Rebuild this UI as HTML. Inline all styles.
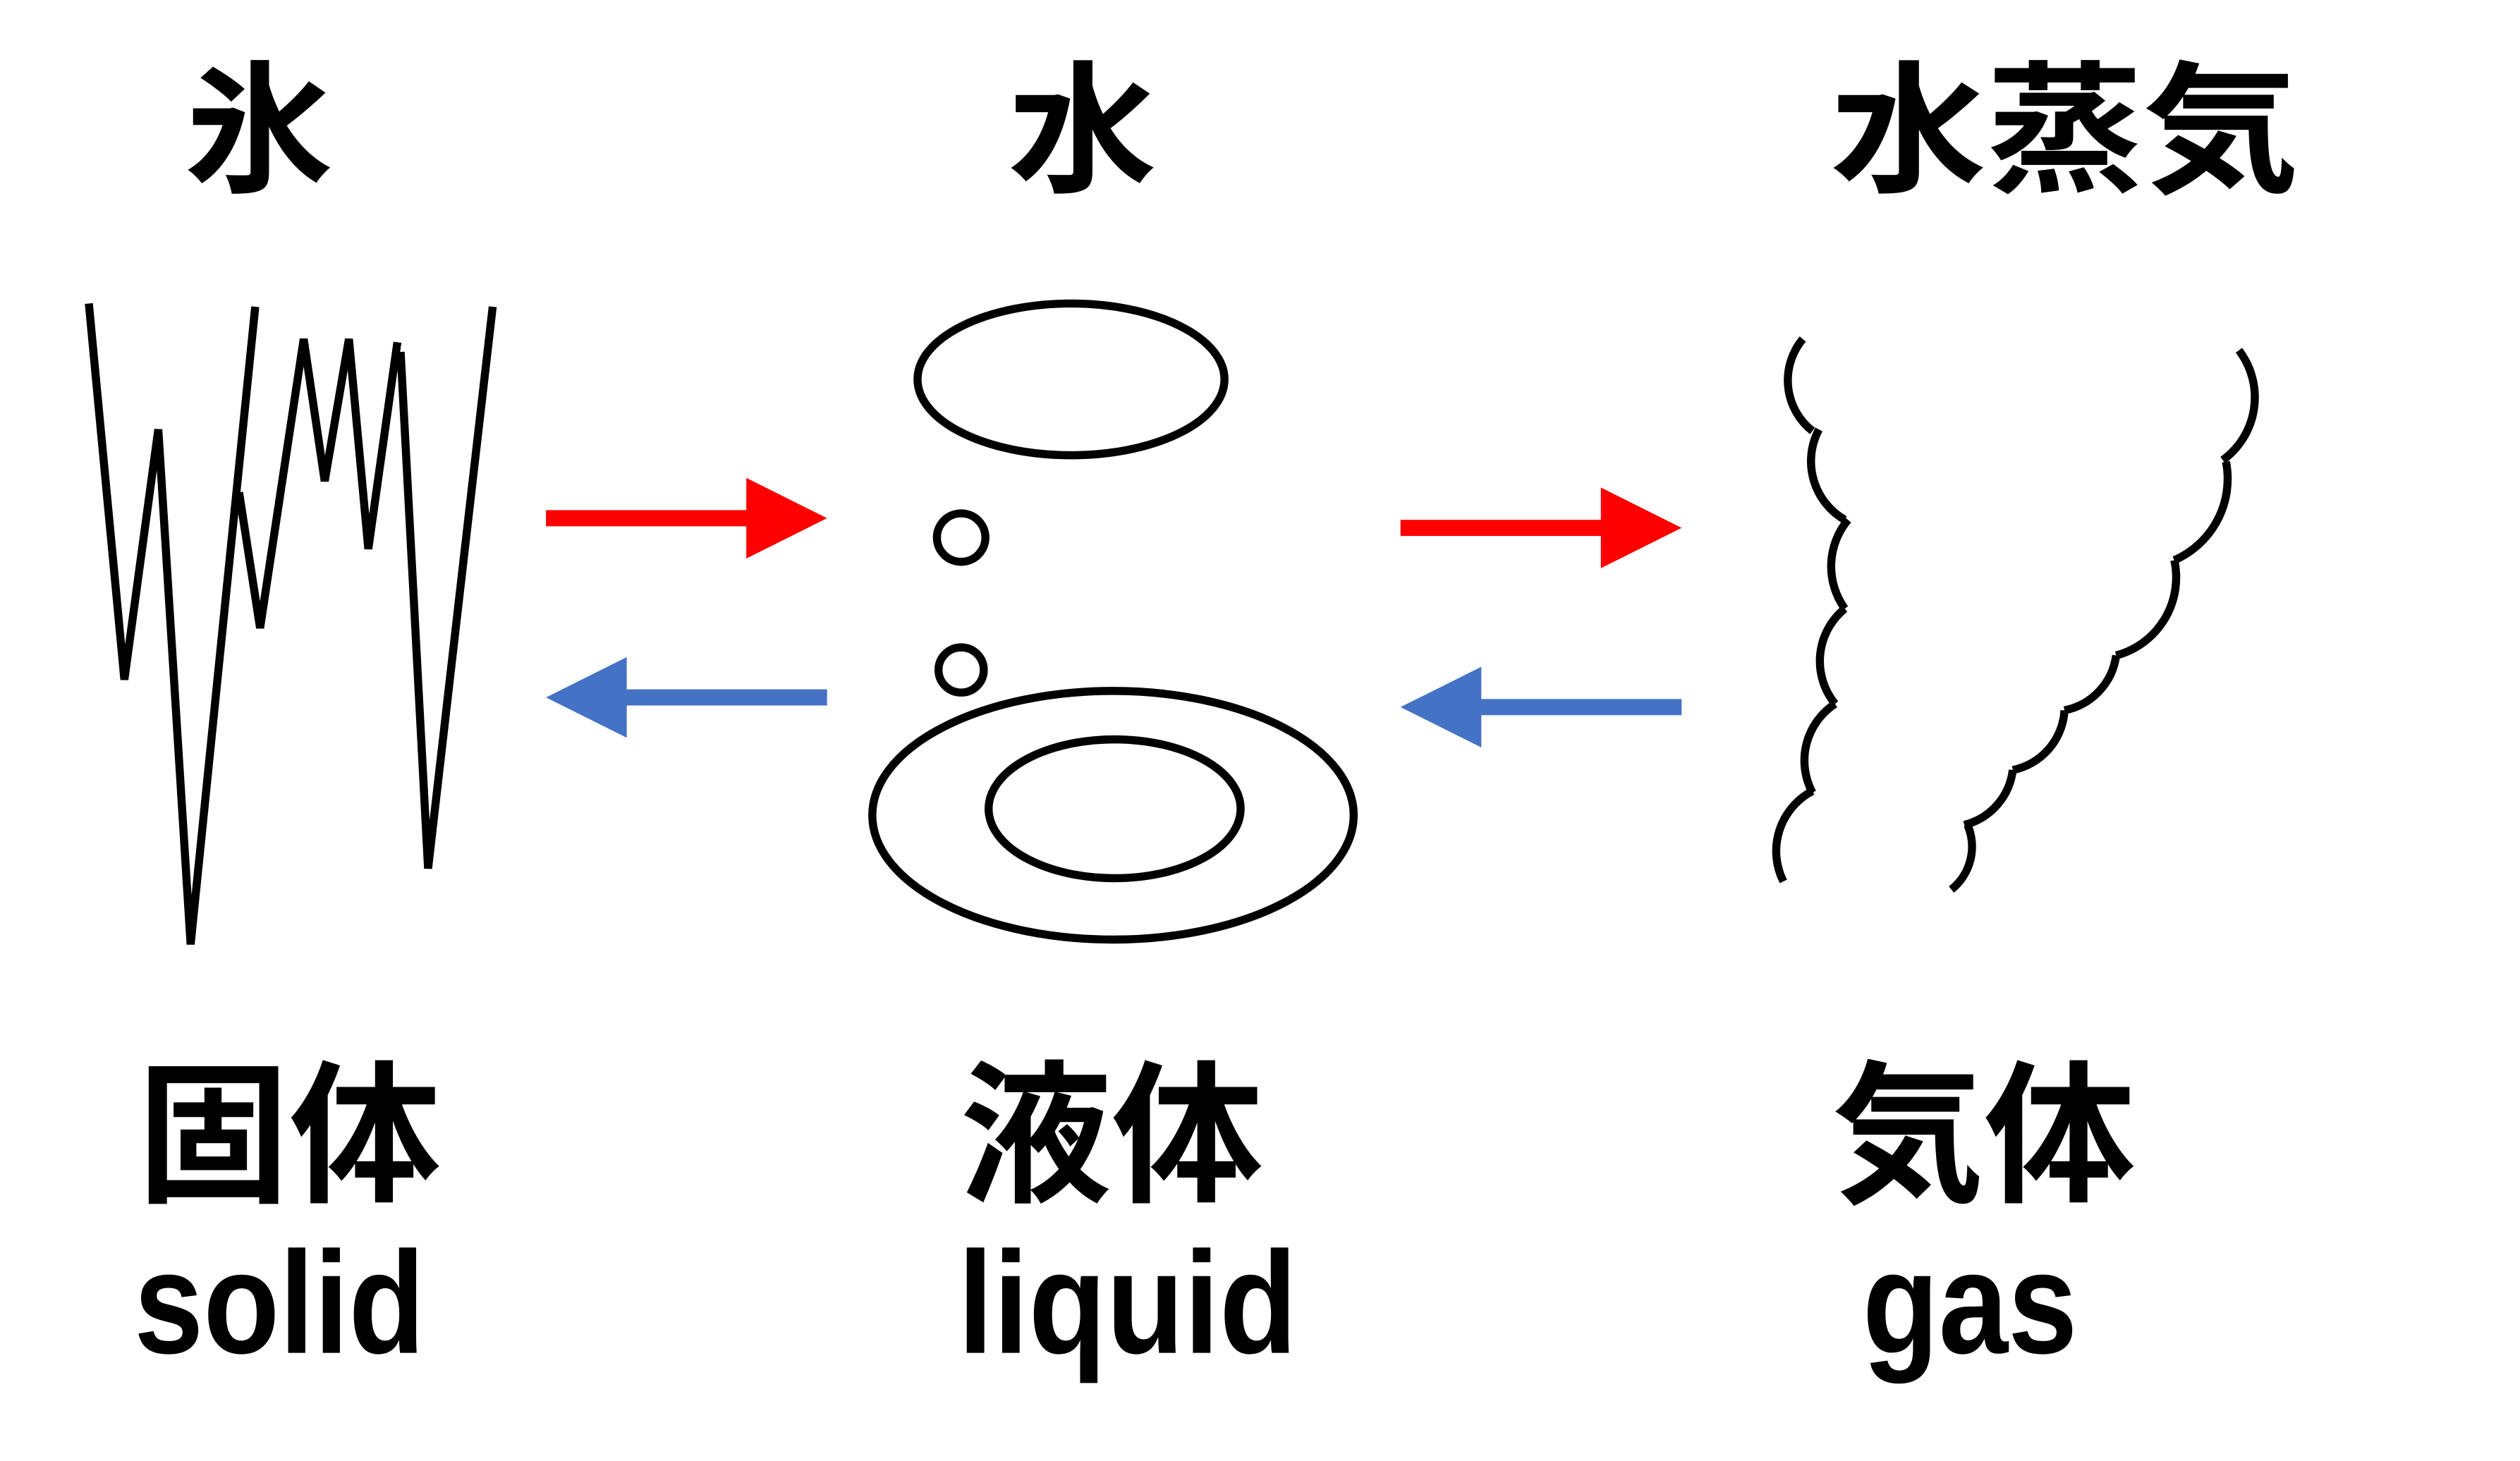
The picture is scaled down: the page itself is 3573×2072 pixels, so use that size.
<!DOCTYPE html>
<html><head><meta charset="utf-8"><style>
html,body{margin:0;padding:0;background:#fff;}
svg{display:block;}
text{font-family:"Liberation Sans","Noto Sans CJK JP",sans-serif;font-weight:bold;fill:#000;}
</style></head><body>
<svg width="3573" height="2072" viewBox="0 0 1560 905" preserveAspectRatio="none" xmlns="http://www.w3.org/2000/svg">
<rect width="1560" height="905" fill="#fff"/>
<text x="114" y="112" font-size="88" textLength="92" lengthAdjust="spacingAndGlyphs">氷</text>
<text x="624" y="112" font-size="88" textLength="92" lengthAdjust="spacingAndGlyphs">水</text>
<text x="1133" y="112" font-size="88" textLength="290" lengthAdjust="spacingAndGlyphs">水蒸気</text>
<text x="85" y="737" font-size="95" textLength="188" lengthAdjust="spacingAndGlyphs">固体</text>
<text x="594" y="737" font-size="95" textLength="188" lengthAdjust="spacingAndGlyphs">液体</text>
<text x="1134" y="737" font-size="95" textLength="188" lengthAdjust="spacingAndGlyphs">気体</text>
<text x="83" y="838" font-size="90" textLength="180" lengthAdjust="spacingAndGlyphs">solid</text>
<text x="593" y="838" font-size="90" textLength="210" lengthAdjust="spacingAndGlyphs">liquid</text>
<text x="1153" y="838" font-size="90" textLength="133" lengthAdjust="spacingAndGlyphs">gas</text>
<g fill="none" stroke="#000" stroke-width="5">
<polyline points="55,188 77,421 98,266 118,585 158,190"/>
<polyline points="148,305 161,389 188,210 201,298 216,210 228,340 246,212"/>
<polyline points="248,218 265,538 305,190"/>
<ellipse cx="663" cy="235" rx="95" ry="47"/>
<circle cx="595" cy="333" r="15"/>
<circle cx="595" cy="415" r="14"/>
<ellipse cx="689" cy="505" rx="149" ry="77"/>
<ellipse cx="690" cy="501" rx="78" ry="43"/>
<path d="M1116,210 A40,40 0 0 0 1122,267 M1126,266 A42,42 0 0 0 1142,322 M1144,322 A45,45 0 0 0 1142,377 M1142,377 A42,42 0 0 0 1136,436 M1136,436 A42,42 0 0 0 1122,491 M1122,490 A42,42 0 0 0 1104,546"/>
<path d="M1386,217 A48,48 0 0 1 1376,285 M1378,286 A55,55 0 0 1 1346,347 M1346,347 A50,50 0 0 1 1310,406 M1310,406 A40,40 0 0 1 1278,440 M1278,440 A40,40 0 0 1 1246,477 M1246,477 A40,40 0 0 1 1216,511 M1218,511 A34,34 0 0 1 1208,551"/>
</g>
<g fill="#ff0000">
<rect x="338" y="316" width="126" height="10"/>
<polygon points="462,296 512,321 462,346"/>
<rect x="867" y="322" width="126" height="10"/>
<polygon points="991,302 1041,327 991,352"/>
</g>
<g fill="#4472c4">
<rect x="386" y="427" width="126" height="10"/>
<polygon points="388,407 338,432 388,457"/>
<rect x="915" y="433" width="126" height="10"/>
<polygon points="917,413 867,438 917,463"/>
</g>
</svg>
</body></html>
